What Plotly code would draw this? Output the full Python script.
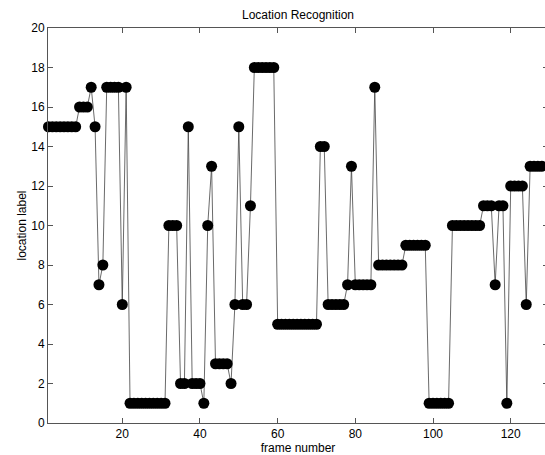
import plotly.graph_objects as go

# frame numbers and recognized location labels
frames = list(range(1, 129))
labels = (
    [15] * 8 + [16] * 3 + [17] + [15] + [7] + [8] + [17] * 4 + [6] + [17]
    + [1] * 10 + [10] * 3 + [2] * 2 + [15] + [2] * 3 + [1] + [10] + [13]
    + [3] * 4 + [2] + [6] + [15] + [6] * 2 + [11] + [18] * 6 + [5] * 11
    + [14] * 2 + [6] * 5 + [7] + [13] + [7] * 5 + [17] + [8] * 7 + [9] * 6
    + [1] * 6 + [10] * 8 + [11] * 3 + [7] + [11] * 2 + [1] + [12] * 4
    + [6] + [13] * 4
)
x_ticks = [20, 40, 60, 80, 100, 120]
y_ticks = list(range(0, 21, 2))

FONT = "Liberation Sans, Arial"

fig = go.Figure()
fig.add_trace(go.Scatter(
    x=frames, y=labels, mode="lines+markers",
    line=dict(color="#444444", width=0.8),
    marker=dict(color="black", size=11, symbol="circle"),
    cliponaxis=False,
    showlegend=False,
))

axis_common = dict(
    showline=True, linecolor="#555555", linewidth=1, mirror="ticks",
    ticks="inside", ticklen=5, tickcolor="#555555",
    showgrid=False, zeroline=False,
    tickfont=dict(family=FONT, size=12, color="black"),
)

fig.update_layout(
    width=550, height=455,
    paper_bgcolor="white", plot_bgcolor="white",
    margin=dict(l=48, r=2, t=28, b=32),
    title=dict(text="Location Recognition", xref="paper", x=0.5, xanchor="center",
               yref="container", y=1 - 15 / 455, yanchor="middle",
               font=dict(family=FONT, size=12, color="black")),
    font=dict(family=FONT, size=12, color="black"),
    xaxis=dict(range=[0.88, 129.6], tickvals=x_ticks,
               title=dict(text="frame number", standoff=2,
                          font=dict(family=FONT, size=12)),
               **axis_common),
    yaxis=dict(range=[0, 20], tickvals=y_ticks,
               title=dict(text="location label", standoff=2,
                          font=dict(family=FONT, size=12)),
               **axis_common),
)

fig.write_html(
    "out.html",
    config={"displayModeBar": False},
    post_script="document.body.style.margin='0';document.body.style.overflow='hidden';",
)
